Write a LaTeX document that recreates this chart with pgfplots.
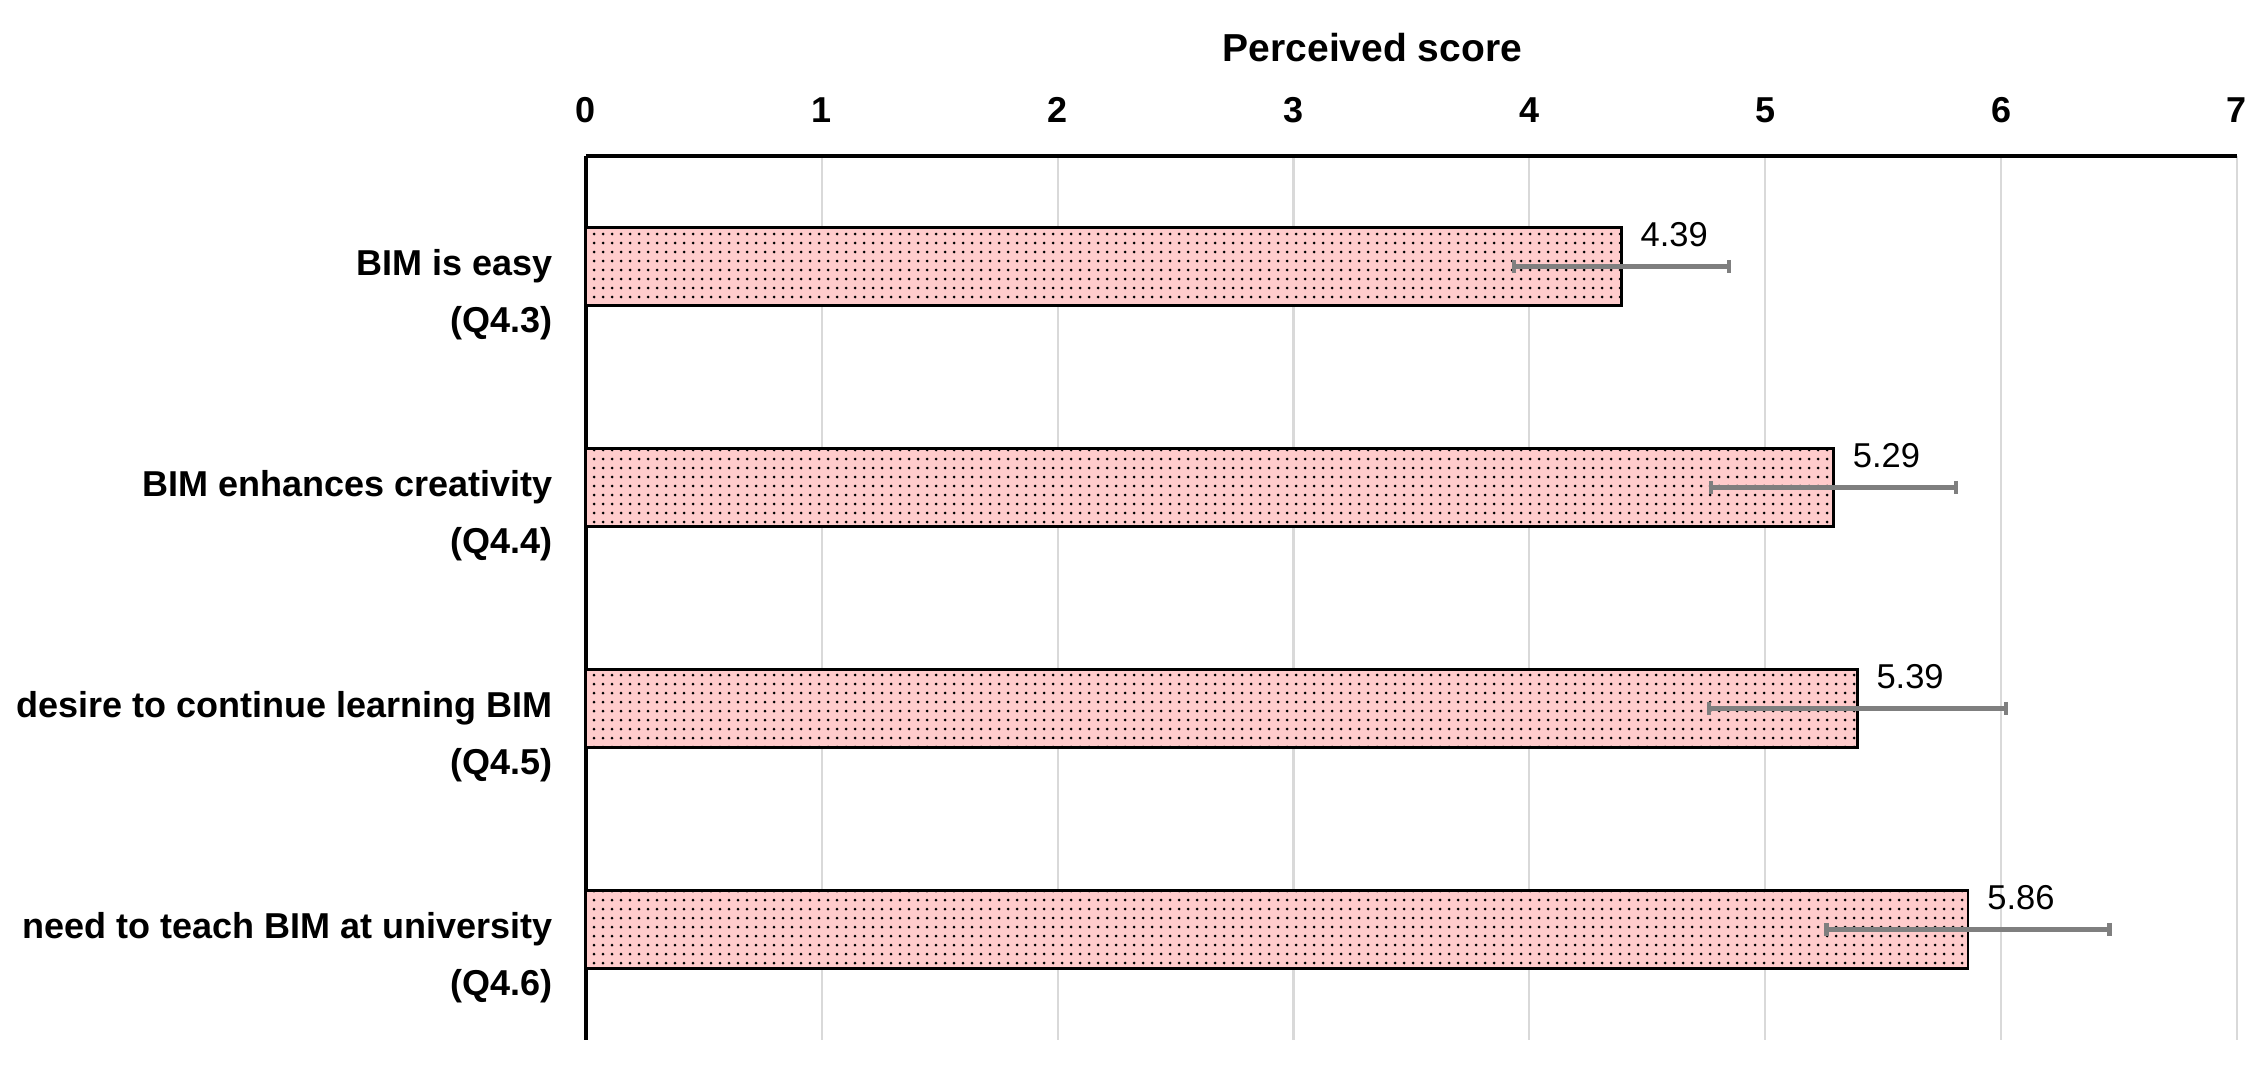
\documentclass[border=0pt]{standalone}
\usepackage{pgfplots}
\pgfplotsset{compat=1.18}
\usetikzlibrary{patterns}
\usepackage{fontspec}
\setmainfont{Liberation Sans}

\definecolor{barpink}{HTML}{FFCCCC}
\definecolor{errgray}{HTML}{7F7F7F}
\definecolor{gridgray}{HTML}{D9D9D9}

\begin{document}
\begin{tikzpicture}
\begin{axis}[
    scale only axis,
    width=550.3pt,
    height=294.7pt,
    xbar,
    bar width=26pt,
    y dir=reverse,
    xmin=0, xmax=7,
    ymin=-0.5, ymax=3.5,
    axis x line=top,
    axis y line=left,
    axis line style={line width=1.2pt, -},
    xtick={0,1,2,3,4,5,6,7},
    ytick={0,1,2,3},
    major tick length=0pt,
    xmajorgrids,
    grid style={gridgray, line width=0.7pt},
    /pgf/number format/assume math mode=true,
    xticklabel style={font=\bfseries\fontsize{12}{14}\selectfont, anchor=center, yshift=15.3pt},
    yticklabels={{BIM is easy\\[5pt](Q4.3)},
                 {BIM enhances creativity\\[5pt](Q4.4)},
                 {desire to continue learning BIM\\[5pt](Q4.5)},
                 {need to teach BIM at university\\[5pt](Q4.6)}},
    yticklabel style={font=\bfseries\fontsize{12}{14}\selectfont, align=right,
        anchor=east, inner sep=0pt, xshift=-11pt, yshift=-9.5pt},
    xlabel={Perceived score},
    xlabel style={font=\bfseries\fontsize{13}{15}\selectfont,
        at={(axis description cs:0.5,1)}, anchor=center, yshift=36pt, xshift=-13pt},
    nodes near coords,
    point meta=x,
    nodes near coords style={font=\fontsize{11.5}{13}\selectfont, anchor=west,
        inner sep=0pt, xshift=6pt, yshift=10.7pt,
        /pgf/number format/.cd, fixed, precision=2, fixed zerofill},
    clip=false,
]
\addplot[fill=barpink, draw=black, line width=0.9pt,
    postaction={pattern=dots, pattern color=black},
    error bars/.cd, x dir=both, x explicit,
    error mark=|,
    error bar style={errgray, line width=1.4pt},
    error mark options={errgray, line width=1.4pt, mark size=2.2pt, rotate=0},
] coordinates {
    (4.39,0) +- (0.455,0)
    (5.29,1) +- (0.52,0)
    (5.39,2) +- (0.63,0)
    (5.86,3) +- (0.60,0)
};
\end{axis}
\pgfresetboundingbox
\path[use as bounding box] (current axis.south west) ++(-195.33pt,-13.33pt) rectangle ++(751pt,360pt);
\end{tikzpicture}
\end{document}
